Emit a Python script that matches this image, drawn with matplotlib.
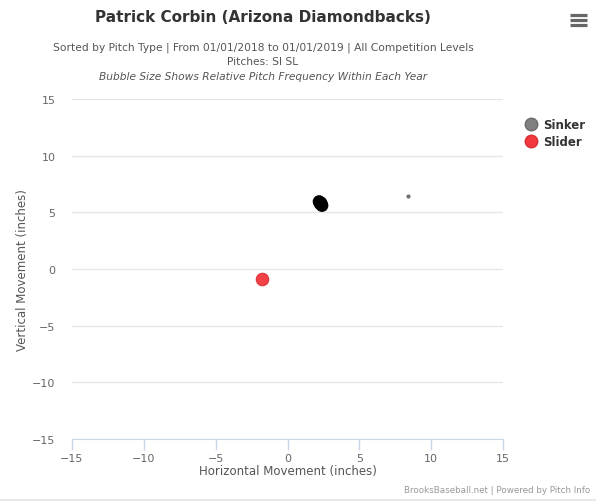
import matplotlib.pyplot as plt
from matplotlib.lines import Line2D

# pitch movement (inches), bubble size ~ relative frequency
sinker_x = [2.2, 2.4, 2.3, 2.35]
sinker_y = [5.95, 5.6, 5.8, 5.7]
sinker_size = [85, 85, 100, 85]
sinker_rare_x = [8.4]
sinker_rare_y = [6.4]
sinker_rare_size = [9]
slider_x = [-1.75]
slider_y = [-0.85]
slider_size = [80]

ticks = [-15, -10, -5, 0, 5, 10, 15]
tick_labels = ["\u221215", "\u221210", "\u22125", "0", "5", "10", "15"]

fig = plt.figure(figsize=(5.96, 5.02), dpi=100)
ax = fig.add_axes([72 / 596, 1 - 440 / 502, 431 / 596, 340 / 502])

ax.scatter(sinker_x, sinker_y, s=sinker_size, color="black", linewidths=0, zorder=3)
ax.scatter(sinker_rare_x, sinker_rare_y, s=sinker_rare_size, color="#707070", linewidths=0, zorder=3)
ax.scatter(slider_x, slider_y, s=slider_size, color="#f2383d", edgecolors="#d93035",
           linewidths=0.8, alpha=0.95, zorder=3)

ax.set_xlim(-15, 15)
ax.set_ylim(-15, 15)
ax.set_xticks(ticks)
ax.set_yticks(ticks)
ax.set_xticklabels(tick_labels)
ax.set_yticklabels(tick_labels)

ax.yaxis.grid(True, color="#e6e6e6", linewidth=1)
ax.set_axisbelow(True)
for s in ["top", "right", "left"]:
    ax.spines[s].set_visible(False)
ax.spines["bottom"].set_color("#ccd6eb")
ax.tick_params(axis="x", colors="#ccd6eb", length=8, width=1, labelcolor="#666666",
               labelsize=8, pad=2)
ax.tick_params(axis="y", length=0, labelcolor="#666666", labelsize=8, pad=12)

ax.set_xlabel("Horizontal Movement (inches)", color="#555555", fontsize=8.5, labelpad=1)
ax.set_ylabel("Vertical Movement (inches)", color="#555555", fontsize=8.5, labelpad=2)

# titles
fig.text(263 / 596, 1 - 18 / 502, "Patrick Corbin (Arizona Diamondbacks)", ha="center",
         va="center", fontsize=11, fontweight="bold", color="#333333")
fig.text(263 / 596, 1 - 48 / 502,
         "Sorted by Pitch Type | From 01/01/2018 to 01/01/2019 | All Competition Levels",
         ha="center", va="center", fontsize=7.7, color="#555555")
fig.text(263 / 596, 1 - 62 / 502, "Pitches: SI SL", ha="center", va="center",
         fontsize=7.7, color="#555555")
fig.text(263 / 596, 1 - 77 / 502, "Bubble Size Shows Relative Pitch Frequency Within Each Year",
         ha="center", va="center", fontsize=7.7, style="italic", color="#555555")

# legend
handles = [
    Line2D([], [], marker="o", linestyle="", markersize=9, markerfacecolor="#808080",
           markeredgecolor="#6a6a6a", label="Sinker"),
    Line2D([], [], marker="o", linestyle="", markersize=9, markerfacecolor="#f2383d",
           markeredgecolor="#d93035", label="Slider"),
]
leg = fig.legend(handles=handles, loc="upper left", bbox_to_anchor=(514 / 596, 1 - 114 / 502),
                 frameon=False, handletextpad=0.1, labelspacing=0.35, borderaxespad=0,
                 prop={"weight": "bold", "size": 8.5})
for t in leg.get_texts():
    t.set_color("#333333")

# menu icon
for yy in [16, 21, 26]:
    fig.add_artist(Line2D([570 / 596, 587 / 596], [1 - yy / 502, 1 - yy / 502],
                          color="#666666", linewidth=2.3, solid_capstyle="butt"))

fig.add_artist(Line2D([0, 1], [1 - 500.5 / 502, 1 - 500.5 / 502], color="#e8e8e8", linewidth=1.5))

fig.text(590 / 596, 1 - 491 / 502, "BrooksBaseball.net | Powered by Pitch Info", ha="right",
         va="center", fontsize=6.3, color="#999999")

fig.savefig("out.png", dpi=100, facecolor="white")
